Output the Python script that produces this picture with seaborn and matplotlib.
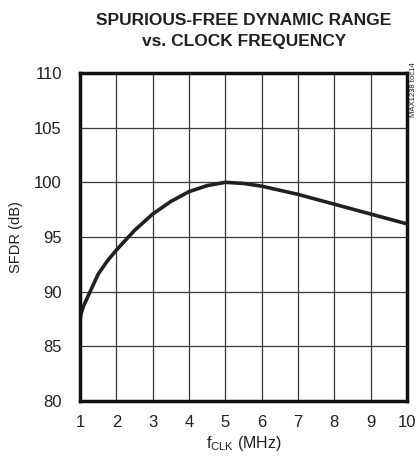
import matplotlib
matplotlib.use("Agg")
import matplotlib.pyplot as plt
import seaborn as sns
import pandas as pd

clock_mhz = [1.0, 1.03, 1.1, 1.25, 1.5, 1.75, 2.0, 2.5, 3.0, 3.5, 4.0, 4.5, 5.0, 5.5, 6.0, 7.0, 8.0, 9.0, 10.0]
sfdr_db = [87.4, 88.0, 88.7, 89.8, 91.6, 92.8, 93.8, 95.6, 97.1, 98.25, 99.15, 99.7, 100.0, 99.9, 99.65, 98.9, 98.0, 97.1, 96.2]
x_ticks = [1, 2, 3, 4, 5, 6, 7, 8, 9, 10]
y_ticks = [80, 85, 90, 95, 100, 105, 110]

sns.set_theme(style="white")
plt.rcParams['font.family'] = ['Liberation Sans Narrow', 'Liberation Sans', 'DejaVu Sans']

df = pd.DataFrame({"clk": clock_mhz, "sfdr": sfdr_db})

fig = plt.figure(figsize=(4.19, 4.59), dpi=100)
ax = fig.add_axes([80/419, 1-401/459, 327/419, 328/459])

sns.lineplot(data=df, x="clk", y="sfdr", ax=ax, color="#231f20", linewidth=2.6, sort=False)

ax.set_xlim(1, 10)
ax.set_ylim(80, 110)
ax.set_xticks(x_ticks)
ax.set_yticks(y_ticks)
ax.set_xticklabels([str(t) for t in x_ticks], fontsize=12, color="#231f20")
ax.set_yticklabels([str(t) for t in y_ticks], fontsize=12, color="#231f20")
ax.tick_params(axis="both", length=0)
ax.tick_params(axis="x", pad=10)
ax.tick_params(axis="y", pad=13)
ax.grid(True, color="#3a3a3a", linewidth=0.9)
ax.set_axisbelow(True)
for s in ax.spines.values():
    s.set_visible(True)
    s.set_color("#111111")
    s.set_linewidth(2.5)

ax.set_xlabel(r"f$_{\mathregular{CLK}}$ (MHz)", fontsize=11.5, color="#231f20", labelpad=3)
ax.set_ylabel("SFDR (dB)", fontsize=10.5, color="#231f20", labelpad=8)

fig.text(244/419, 1-31/459, "SPURIOUS-FREE DYNAMIC RANGE\nvs. CLOCK FREQUENCY",
         ha="center", va="center", fontsize=12.5, fontweight="bold", color="#231f20",
         linespacing=1.5)
fig.text(413/419, 1-62/459, "MAX1238 toc14", rotation=90, ha="center", va="top",
         fontsize=5.5, color="#231f20")

fig.savefig("out.png", dpi=100)
